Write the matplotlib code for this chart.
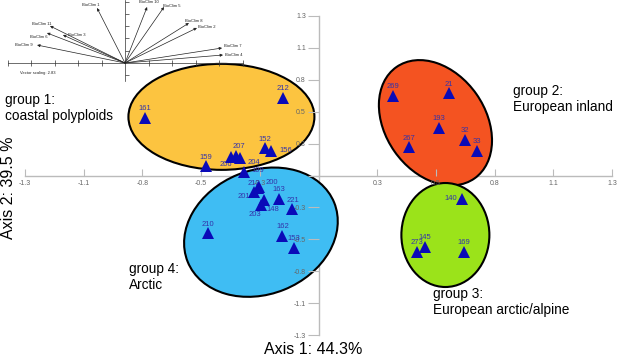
import numpy as np
import matplotlib
matplotlib.use("Agg")
import matplotlib.pyplot as plt
from matplotlib.patches import Ellipse
from matplotlib import transforms as mtransforms

plt.rcParams['font.family'] = ['Liberation Sans', 'DejaVu Sans']

# ---------------- data ----------------
tick_vals = np.linspace(-1.3, 1.3, 11)
x_tick_labels = ["-1.3", "-1.1", "-0.8", "-0.5", "-0.3", "", "0.3", "0.5", "0.8", "1.1", "1.3"]
y_tick_labels = ["-1.3", "-1.1", "-0.8", "-0.5", "-0.3", "", "0.3", "0.5", "0.8", "1.1", "1.3"]

g1_ids = ["161", "212", "206", "207", "204", "152", "156", "159"]
g1_x = [-0.768, -0.157, -0.386, -0.365, -0.347, -0.237, -0.210, -0.498]
g1_y = [0.469, 0.632, 0.151, 0.160, 0.143, 0.224, 0.200, 0.077]

g2_ids = ["269", "21", "193", "267", "32", "33"]
g2_x = [0.330, 0.578, 0.534, 0.400, 0.649, 0.700]
g2_y = [0.650, 0.670, 0.390, 0.230, 0.290, 0.200]

g3_ids = ["140", "145", "273", "169"]
g3_x = [0.635, 0.470, 0.437, 0.645]
g3_y = [-0.190, -0.580, -0.620, -0.620]

g4_ids = ["199", "213", "200", "201", "163", "148", "203", "221", "210", "162", "153"]
g4_x = [-0.330, -0.268, -0.262, -0.285, -0.175, -0.240, -0.256, -0.116, -0.490, -0.160, -0.110]
g4_y = [0.030, -0.100, -0.090, -0.135, -0.190, -0.200, -0.240, -0.270, -0.470, -0.490, -0.590]

group_names = ["group 1:\ncoastal polyploids", "group 2:\nEuropean inland",
               "group 3:\nEuropean arctic/alpine", "group 4:\nArctic"]

bio_names = ["BioClim 1", "BioClim 10", "BioClim 5", "BioClim 8", "BioClim 2", "BioClim 7",
             "BioClim 4", "BioClim 11", "BioClim 3", "BioClim 6", "BioClim 9"]
bio_x = [-1.19, 0.94, 1.66, 2.72, 3.06, 4.13, 4.17, -3.19, -2.64, -3.32, -3.74]
bio_y = [4.47, 4.55, 4.55, 3.25, 2.85, 1.22, 0.65, 3.01, 2.28, 2.44, 1.46]

# ---------------- figure ----------------
W, H = 617, 357
fig = plt.figure(figsize=(W / 100, H / 100), dpi=100)
ax = fig.add_axes([25 / W, 22 / H, 587 / W, 319 / H])
ax.set_xlim(-1.3, 1.3)
ax.set_ylim(-1.3, 1.3)
ppx = 587 / 2.6
ppy = 319 / 2.6

for s in ['top', 'right']:
    ax.spines[s].set_visible(False)
for s in ['left', 'bottom']:
    ax.spines[s].set_position(('data', 0))
    ax.spines[s].set_color('#bbbbbb')
    ax.spines[s].set_linewidth(1.0)
    ax.spines[s].set_zorder(1)

ax.set_xticks(tick_vals)
ax.set_xticklabels(x_tick_labels)
ax.set_yticks(tick_vals)
ax.set_yticklabels(y_tick_labels)
ax.tick_params(axis='x', direction='in', length=5, width=0.8, color='#bbbbbb',
               labelsize=5, labelcolor='#666666', pad=3)
ax.tick_params(axis='y', direction='out', length=8, width=0.8, color='#bbbbbb',
               labelsize=5, labelcolor='#666666', pad=1)
ax.xaxis.set_zorder(3)
ax.yaxis.set_zorder(3)


def pix_ellipse(cx, cy, a_px, b_px, ang, color):
    tr = mtransforms.Affine2D().scale(1 / ppx, 1 / ppy).translate(cx, cy) + ax.transData
    e = Ellipse((0, 0), 2 * a_px, 2 * b_px, angle=ang, transform=tr,
                facecolor=color, edgecolor='black', linewidth=1.5, zorder=2)
    ax.add_patch(e)


pix_ellipse(-0.430, 0.478, 93, 53, 0, '#FCC440')
pix_ellipse(0.518, 0.430, 68, 50, -55, '#F45321')
pix_ellipse(0.562, -0.485, 44, 52, 0, '#9BE31A')
pix_ellipse(-0.255, -0.462, 79, 62, 22, '#3FBDF3')

label_offsets = {
    "206": (-5, -8, 'center'), "204": (14, -5, 'center'), "207": (3, 9, 'center'),
    "156": (8, 0, 'left'), "199": (7, 1, 'left'), "201": (-10, -4, 'center'),
    "213": (-4, 4, 'center'), "200": (12, 4, 'center'), "148": (9, -9, 'center'),
    "203": (-6, -10, 'center'), "140": (-11, 0, 'center'), "221": (1, 8, 'center'),
}
lab_color = '#3333aa'
tri_color = '#0a0ab8'
for ids, xs, ys in [(g1_ids, g1_x, g1_y), (g2_ids, g2_x, g2_y),
                    (g3_ids, g3_x, g3_y), (g4_ids, g4_x, g4_y)]:
    ax.plot(xs, ys, linestyle='none', marker='^', markersize=9, color=tri_color,
            markeredgewidth=0, zorder=4)
    for i, x, y in zip(ids, xs, ys):
        dx, dy, ha = label_offsets.get(i, (0, 9, 'center'))
        ax.annotate(i, (x, y), xytext=(dx, dy), textcoords='offset pixels',
                    ha=ha, va='center', fontsize=5.5, color=lab_color, zorder=3.5)

# group labels (figure pixel positions)
gl_pos = [(5, 108), (513, 99), (433, 302), (129, 277)]
for name, (px, py) in zip(group_names, gl_pos):
    fig.text(px / W, 1 - py / H, name, ha='left', va='center', fontsize=9.8,
             color='black', linespacing=1.2)

fig.text(313 / W, 1 - 349 / H, "Axis 1: 44.3%", ha='center', va='center', fontsize=11.5)
fig.text(9 / W, 1 - 188 / H, "Axis 2: 39.5 %", ha='center', va='center',
         fontsize=11.5, rotation=90)

# ---------------- vector inset ----------------
ax2 = fig.add_axes([0, 1 - 82 / H, 250 / W, 82 / H])
ax2.set_xlim(-125 / 23.5, 125 / 23.5)
ax2.set_ylim(-19 / 12.3, 63 / 12.3)
ax2.patch.set_alpha(0)
for s in ['top', 'right']:
    ax2.spines[s].set_visible(False)
for s in ['left', 'bottom']:
    ax2.spines[s].set_position(('data', 0))
    ax2.spines[s].set_color('#333333')
    ax2.spines[s].set_linewidth(0.5)
ax2.spines['bottom'].set_bounds(-5, 5)
ax2.spines['left'].set_bounds(-1.5, 5.12)
ax2.set_xticks([v for v in range(-5, 6) if v != 0])
ax2.set_yticks([v for v in range(-1, 6) if v != 0])
ax2.set_xticklabels([])
ax2.set_yticklabels([])
ax2.tick_params(axis='x', direction='inout', length=4, width=0.5, color='#333333')
ax2.tick_params(axis='y', direction='in', length=3, width=0.5, color='#333333')

bio_offsets = {
    "BioClim 1": (-6, 3, 'center'), "BioClim 10": (2, 5, 'center'),
    "BioClim 5": (-1, 1, 'left'), "BioClim 8": (-4, 2, 'left'),
    "BioClim 2": (1, 1, 'left'), "BioClim 7": (2, 2, 'left'),
    "BioClim 4": (2, 0, 'left'), "BioClim 11": (-8, 2, 'center'),
    "BioClim 3": (5, 0, 'left'), "BioClim 6": (-8, -4, 'center'),
    "BioClim 9": (-4, 0, 'right'),
}
for n, x, y in zip(bio_names, bio_x, bio_y):
    ax2.annotate('', xy=(x, y), xytext=(0, 0),
                 arrowprops=dict(arrowstyle='-|>', lw=0.5, color='#222222',
                                 mutation_scale=4, shrinkA=0, shrinkB=0))
    dx, dy, ha = bio_offsets[n]
    ax2.annotate(n, (x, y), xytext=(dx, dy), textcoords='offset pixels',
                 ha=ha, va='center', fontsize=3, color='#222222')
ax2.text(20 / 23.5 - 125 / 23.5, (63 - 73) / 12.3, "Vector scaling: 2.83",
         ha='left', va='center', fontsize=3, color='#222222')

fig.savefig("out.png", dpi=100)
